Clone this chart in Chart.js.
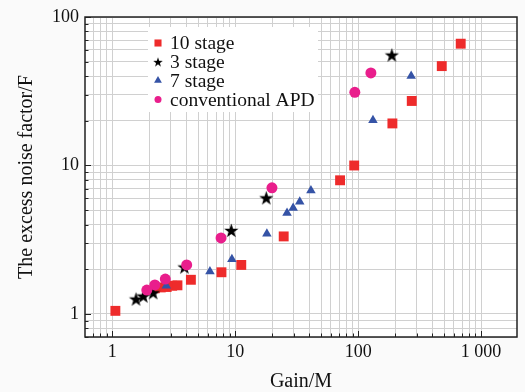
<!DOCTYPE html>
<html>
<head>
<meta charset="utf-8">
<script src="https://cdn.jsdelivr.net/npm/chart.js@4/dist/chart.umd.min.js"></script>
<style>
  html, body { margin: 0; padding: 0; background: #fafafa; }
  #wrap { width: 525px; height: 392px; }
</style>
</head>
<body>
<div id="wrap"><canvas id="chartCanvas" width="525" height="392"></canvas></div>
<script>
// =========================
// Data
// =========================
const tenStageGain = [1.06, 2.22, 2.48, 2.77, 3.07, 3.39, 4.36, 7.73, 11.2, 24.8, 71.3, 92.9, 190, 273, 479, 683];
const tenStageF    = [1.05, 1.49, 1.51, 1.52, 1.55, 1.56, 1.70, 1.91, 2.14, 3.33, 7.95, 10.0, 19.2, 27.2, 46.7, 66.1];

const threeStageGain = [1.56, 1.79, 2.15, 3.86, 9.29, 17.9, 188];
const threeStageF    = [1.26, 1.32, 1.39, 2.07, 3.65, 6.05, 55.4];

const sevenStageGain = [2.75, 6.23, 9.4, 18.1, 26.4, 29.6, 33.5, 41.3, 132, 270];
const sevenStageF    = [1.55, 1.93, 2.34, 3.47, 4.79, 5.18, 5.69, 6.78, 20.2, 40.1];

const apdGain = [1.91, 2.22, 2.70, 4.03, 7.67, 19.9, 94, 127];
const apdF    = [1.45, 1.57, 1.72, 2.14, 3.25, 7.07, 31.1, 42.0];

const seriesLabels = ["10 stage", "3 stage", "7 stage", "conventional APD"];

const xTickLabels = { 1: "1", 10: "10", 100: "100", 1000: "1 000" };
const yTickLabels = { 1: "1", 10: "10", 100: "100" };

// =========================
// Hjälpfunktioner
// =========================
function toPoints(xs, ys) {
    return xs.map((x, i) => ({ x: x, y: ys[i] }));
}

function minorTicks(from, to) {
    const out = [];
    for (let d = 0.1; d <= 1000; d *= 10) {
        for (let k = 1; k <= 9; k++) {
            const v = +(k * d).toPrecision(3);
            if (v >= from - 1e-9 && v <= to + 1e-9) out.push(v);
        }
    }
    return out;
}

function makeStar(outer, inner, color) {
    const c = document.createElement("canvas");
    const s = Math.ceil(outer * 2 + 2);
    c.width = s; c.height = s;
    const g = c.getContext("2d");
    g.fillStyle = color;
    g.beginPath();
    for (let i = 0; i < 10; i++) {
        const r = i % 2 === 0 ? outer : inner;
        const a = -Math.PI / 2 + i * Math.PI / 5;
        const px = s / 2 + r * Math.cos(a);
        const py = s / 2 + 0.6 + r * Math.sin(a);
        if (i === 0) g.moveTo(px, py); else g.lineTo(px, py);
    }
    g.closePath();
    g.fill();
    return c;
}

const starBig = makeStar(7.5, 3.0, "#000");
const starSmall = makeStar(5, 2, "#000");

const RED = "#ee2b2b";
const BLUE = "#3553a6";
const PINK = "#e91e8c";

// =========================
// Plugins
// =========================
const plotFrame = {
    id: "plotFrame",
    beforeDraw(chart) {
        const { ctx, chartArea: a } = chart;
        ctx.save();
        ctx.fillStyle = "#ffffff";
        ctx.fillRect(a.left, a.top, a.right - a.left, a.bottom - a.top);
        ctx.restore();
    },
    afterDatasetsDraw(chart) {
        const { ctx } = chart;
        ctx.save();
        // legend box
        const lx = 148, ly = 27, lw = 170, lh = 85;
        ctx.fillStyle = "#ffffff";
        ctx.fillRect(lx, ly, lw, lh);
        ctx.font = "19.5px 'Liberation Serif', 'Times New Roman', serif";
        ctx.textBaseline = "middle";
        const styles = [
            { style: "rect", r: 5, color: RED },
            { style: starSmall, r: 5, color: "#000" },
            { style: "triangle", r: 4.5, color: BLUE },
            { style: "circle", r: 3.5, color: PINK }
        ];
        chart.data.datasets.forEach((ds, i) => {
            const y = 43 + i * 18.8;
            const st = styles[i];
            ctx.fillStyle = st.color;
            ctx.strokeStyle = st.color;
            Chart.helpers.drawPoint(ctx, { pointStyle: st.style, radius: st.r, rotation: 0, borderWidth: 0 }, 158, y);
            ctx.fillStyle = "#111";
            ctx.fillText(ds.label, 170, y + 1);
        });
        ctx.restore();
    },
    afterDraw(chart) {
        const { ctx, chartArea: a, scales } = chart;
        ctx.save();
        ctx.strokeStyle = "#222";
        ctx.lineWidth = 1;
        // inner tick marks
        scales.x.ticks.forEach(t => {
            const px = Math.round(scales.x.getPixelForValue(t.value)) + 0.5;
            const len = xTickLabels[t.value] ? 6 : 3.5;
            ctx.beginPath();
            ctx.moveTo(px, a.bottom);
            ctx.lineTo(px, a.bottom - len);
            ctx.stroke();
        });
        scales.y.ticks.forEach(t => {
            const py = Math.round(scales.y.getPixelForValue(t.value)) + 0.5;
            const len = yTickLabels[t.value] ? 6 : 3.5;
            ctx.beginPath();
            ctx.moveTo(a.left, py);
            ctx.lineTo(a.left + len, py);
            ctx.stroke();
        });
        // frame
        ctx.strokeStyle = "#222";
        ctx.lineWidth = 1.5;
        ctx.strokeRect(a.left, a.top, a.right - a.left, a.bottom - a.top);
        ctx.restore();
    }
};

// =========================
// Diagram (Chart.js)
// =========================
const serif = "'Liberation Serif', 'Times New Roman', serif";
const ctx = document.getElementById("chartCanvas").getContext("2d");

new Chart(ctx, {
    type: "scatter",
    data: {
        datasets: [
            {
                label: seriesLabels[0],
                data: toPoints(tenStageGain, tenStageF),
                pointStyle: "rect",
                pointRadius: 7,
                backgroundColor: RED,
                borderColor: RED,
                borderWidth: 0,
                order: 4
            },
            {
                label: seriesLabels[1],
                data: toPoints(threeStageGain, threeStageF),
                pointStyle: starBig,
                pointRadius: 7,
                backgroundColor: "#000",
                borderColor: "#000",
                order: 2
            },
            {
                label: seriesLabels[2],
                data: toPoints(sevenStageGain, sevenStageF),
                pointStyle: "triangle",
                pointRadius: 5.5,
                backgroundColor: BLUE,
                borderColor: BLUE,
                borderWidth: 0,
                order: 3
            },
            {
                label: seriesLabels[3],
                data: toPoints(apdGain, apdF),
                pointStyle: "circle",
                pointRadius: 5.5,
                backgroundColor: PINK,
                borderColor: PINK,
                borderWidth: 0,
                order: 1
            }
        ]
    },
    options: {
        responsive: false,
        animation: false,
        devicePixelRatio: 1,
        layout: { padding: { top: 17, right: 1.5, left: 0, bottom: 0 } },
        plugins: {
            legend: { display: false },
            tooltip: { enabled: false }
        },
        scales: {
            x: {
                type: "logarithmic",
                min: 0.61,
                max: 1960,
                afterBuildTicks(scale) {
                    scale.ticks = minorTicks(0.7, 1000).map(v => ({ value: v }));
                },
                afterFit(scale) { scale.height = 55; },
                grid: { color: "#d0d0d0", lineWidth: 1, drawTicks: false },
                border: { display: false },
                ticks: {
                    autoSkip: false,
                    maxRotation: 0,
                    padding: 4,
                    color: "#111",
                    font: { family: serif, size: 18 },
                    callback: v => xTickLabels[v] || ""
                },
                title: {
                    display: true,
                    text: "Gain/M",
                    color: "#111",
                    font: { family: serif, size: 20, lineHeight: 1 },
                    padding: { top: 0, bottom: 0 }
                }
            },
            y: {
                type: "logarithmic",
                min: 0.7,
                max: 100,
                afterBuildTicks(scale) {
                    scale.ticks = minorTicks(0.7, 100).map(v => ({ value: v }));
                },
                afterFit(scale) { scale.width = 85; },
                grid: { color: "#d0d0d0", lineWidth: 1, drawTicks: false },
                border: { display: false },
                ticks: {
                    autoSkip: false,
                    padding: 6,
                    color: "#111",
                    font: { family: serif, size: 18 },
                    callback: v => yTickLabels[v] || ""
                },
                title: {
                    display: true,
                    text: "The excess noise factor/F",
                    color: "#111",
                    font: { family: serif, size: 20 },
                    padding: { top: 15, bottom: 0 }
                }
            }
        }
    },
    plugins: [plotFrame]
});
</script>
</body>
</html>
